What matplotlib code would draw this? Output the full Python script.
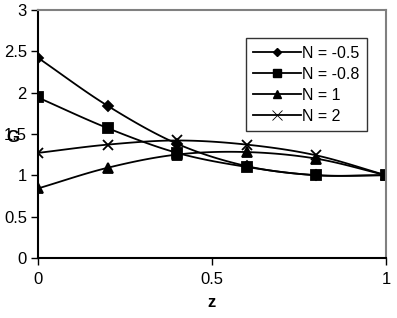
import numpy as np
import matplotlib.pyplot as plt

plt.rcParams['font.family'] = ['Liberation Sans', 'DejaVu Sans']

z = [0, 0.2, 0.4, 0.6, 0.8, 1.0]
g_m05 = [2.42, 1.84, 1.38, 1.11, 1.0, 1.0]
g_m08 = [1.94, 1.57, 1.27, 1.10, 1.0, 1.0]
g_1 = [0.84, 1.09, 1.25, 1.28, 1.20, 1.0]
g_2 = [1.27, 1.37, 1.42, 1.37, 1.24, 1.0]

series = [("N = -0.5", g_m05, "D", 5.5),
          ("N = -0.8", g_m08, "s", 7),
          ("N = 1", g_1, "^", 7),
          ("N = 2", g_2, "x", 7)]


def smooth(x, y, n=20):
    # Excel-like smoothed line (Catmull-Rom)
    x = np.asarray(x, float)
    y = np.asarray(y, float)
    px = np.concatenate([[2 * x[0] - x[1]], x, [2 * x[-1] - x[-2]]])
    py = np.concatenate([[2 * y[0] - y[1]], y, [2 * y[-1] - y[-2]]])
    xs, ys = [], []
    t = np.linspace(0, 1, n)
    for i in range(1, len(px) - 2):
        for p, out in ((px, xs), (py, ys)):
            p0, p1, p2, p3 = p[i - 1], p[i], p[i + 1], p[i + 2]
            out.extend(0.5 * ((2 * p1) + (-p0 + p2) * t
                              + (2 * p0 - 5 * p1 + 4 * p2 - p3) * t ** 2
                              + (-p0 + 3 * p1 - 3 * p2 + p3) * t ** 3))
    return xs, ys


fig = plt.figure(figsize=(3.97, 3.18), dpi=100)
ax = fig.add_axes([0.0957, 0.189, 0.8765, 0.78])

for label, vals, mk, ms in series:
    sx, sy = smooth(z, vals)
    ax.plot(sx, sy, color='black', lw=1.3)
    ax.plot(z, vals, linestyle='none', marker=mk, color='black', ms=ms,
            mew=1.3)
    ax.plot([], [], color='black', lw=1.3, marker=mk,
            ms=ms * 0.75 if mk != 'x' else ms, mew=0.6 if mk == 'x' else 1,
            label=label)

ax.set_xlim(0, 1)
ax.set_ylim(0, 3)
ax.set_xticks([0, 0.5, 1])
ax.set_xticklabels(['0', '0.5', '1'])
ax.set_yticks([0, 0.5, 1, 1.5, 2, 2.5, 3])
ax.set_yticklabels(['0', '0.5', '1', '1.5', '2', '2.5', '3'])
ax.tick_params(labelsize=12, direction='out', length=5, width=1)
ax.tick_params(axis='x', pad=5)
ax.tick_params(axis='y', pad=3)
for s in ['top', 'right']:
    ax.spines[s].set_color('#808080')
    ax.spines[s].set_linewidth(1.5)
for s in ['left', 'bottom']:
    ax.spines[s].set_linewidth(1.5)

ax.set_xlabel('z', fontsize=12, fontweight='bold', labelpad=6)
fig.text(13 / 397, 1 - 138 / 318, 'G', fontsize=12, fontweight='bold',
         ha='center', va='center')

leg = ax.legend(loc='upper right', bbox_to_anchor=(0.945, 0.885),
                fontsize=11.5, frameon=True, fancybox=False,
                edgecolor='black', borderpad=0.45, labelspacing=0.38,
                handlelength=3.0, handletextpad=0.1, borderaxespad=0)
leg.get_frame().set_linewidth(1.0)

fig.savefig('out.png', dpi=100)
